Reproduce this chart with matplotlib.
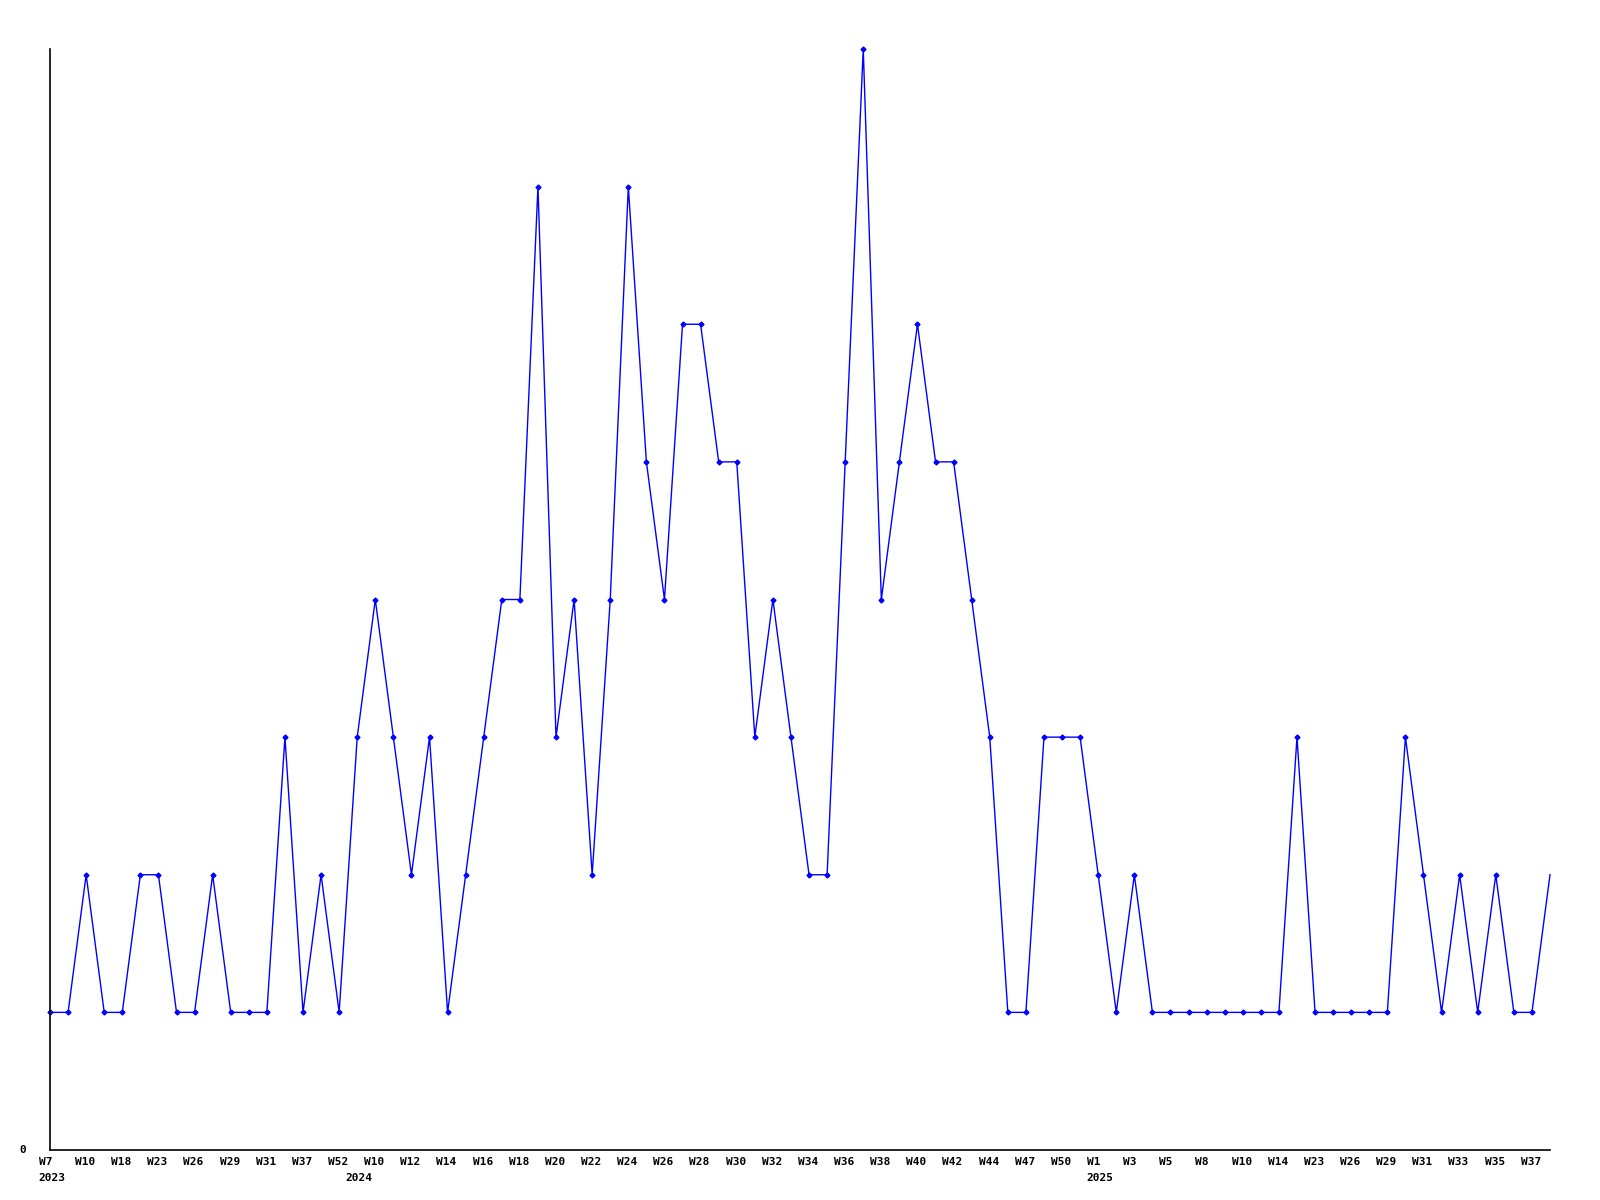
import numpy as np
import matplotlib
matplotlib.use('Agg')
import matplotlib.pyplot as plt

# weekly counts, one value per point
counts = [1, 1, 2, 1, 1, 2, 2, 1, 1, 2, 1, 1, 1, 3, 1, 2, 1, 3, 4, 3,
          2, 3, 1, 2, 3, 4, 4, 7, 3, 4, 2, 4, 7, 5, 4, 6, 6, 5, 5, 3,
          4, 3, 2, 2, 5, 8, 4, 5, 6, 5, 5, 4, 3, 1, 1, 3, 3, 3, 2, 1,
          2, 1, 1, 1, 1, 1, 1, 1, 1, 3, 1, 1, 1, 1, 1, 3, 2, 1, 2, 1,
          2, 1, 1, 2]

# labels on every second point
week_labels = ['W7', 'W10', 'W18', 'W23', 'W26', 'W29', 'W31', 'W37', 'W52', 'W10',
               'W12', 'W14', 'W16', 'W18', 'W20', 'W22', 'W24', 'W26', 'W28', 'W30',
               'W32', 'W34', 'W36', 'W38', 'W40', 'W42', 'W44', 'W47', 'W50', 'W1',
               'W3', 'W5', 'W8', 'W10', 'W14', 'W23', 'W26', 'W29', 'W31', 'W33',
               'W35', 'W37']
years = ['2023', '2024', '2025']
year_index = [0, 17, 58]

x = np.arange(len(counts))
font = dict(family='DejaVu Sans Mono', fontweight='bold', fontsize=8)

fig = plt.figure(figsize=(16, 12), dpi=100)
ax = fig.add_axes([50 / 1600, 50 / 1200, 1500 / 1600, 1101 / 1200])
ax.plot(x, counts, color='#0000ff', linewidth=1.0, marker='D', markersize=2.5,
        markevery=list(range(len(counts) - 1)), clip_on=False)

ax.set_xlim(0, len(counts) - 1)
ax.set_ylim(0, max(counts))
for s in ['top', 'right']:
    ax.spines[s].set_visible(False)
for s in ['left', 'bottom']:
    ax.spines[s].set_linewidth(1.2)
    ax.spines[s].set_color('black')
ax.set_xticks([])
ax.set_yticks([])

tr = ax.get_xaxis_transform()
for i, lab in enumerate(week_labels):
    ax.text(2 * i - 0.62, -0.011, lab, transform=tr, ha='left', va='center', **font)
for i, yr in zip(year_index, years):
    ax.text(i + 0.1, -0.025, yr, transform=tr, ha='center', va='center', **font)
ax.text(-0.0185, 0, '0', transform=ax.transAxes, ha='center', va='center', **font)

fig.savefig('out.png', dpi=100)
